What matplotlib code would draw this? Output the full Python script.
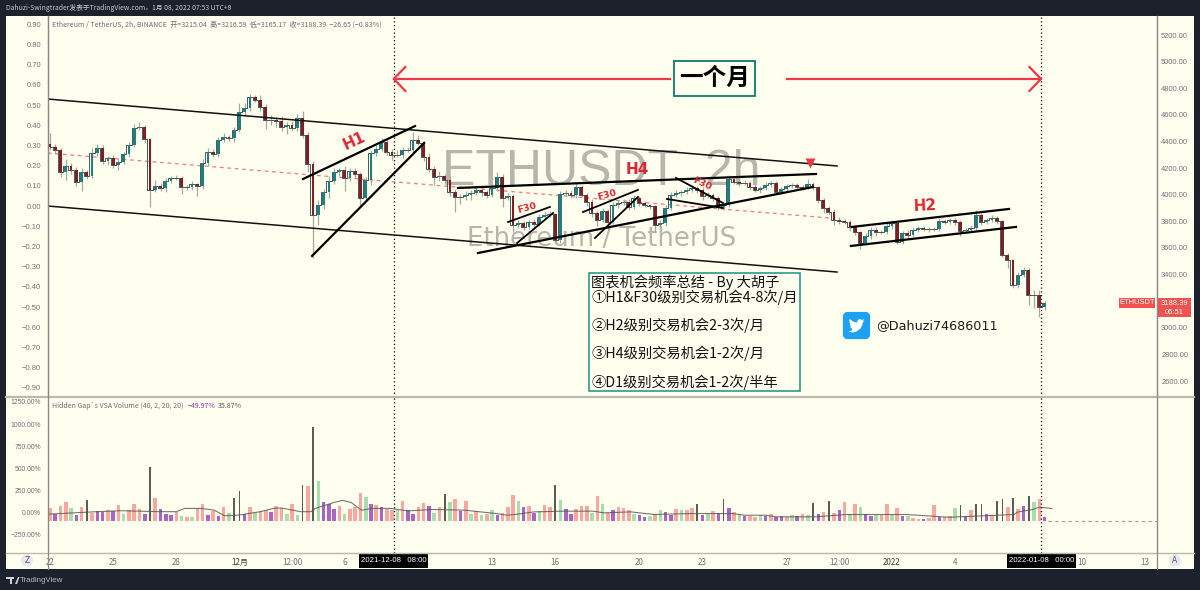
import numpy as np
import matplotlib
matplotlib.use("Agg")
import matplotlib.pyplot as plt
from matplotlib.patches import FancyBboxPatch, Rectangle, Polygon, Circle

# closes of the price, one every 6 hours from 22 Nov 2021
closes = [4358,4336,4171,4216,4186,4096,4171,4141,4314,4351,
          4253,4276,4223,4246,4306,4374,4501,4509,4419,4036,
          4066,4051,4103,4126,4126,4058,4058,4081,4066,4238,
          4321,4306,4411,4434,4426,4486,4621,4652,4734,4712,
          4659,4561,4561,4554,4509,4524,4501,4576,4449,4231,
          3848,3923,4021,4103,4171,4186,4126,4178,4156,3975,
          4111,4314,4344,4396,4321,4299,4299,4336,4336,4411,
          4389,4283,4193,4133,4141,4111,4021,3983,3983,3998,
          4013,4036,4021,3998,4051,4133,3975,3990,3773,3788,
          3758,3795,3780,3833,3848,3855,3660,4006,4013,3998,
          4058,3998,3945,3863,3810,3878,3795,3923,3938,3945,
          3908,3975,3938,3923,3915,3773,3788,3900,3998,4013,
          4021,4036,4051,4036,3990,3998,3975,3908,3923,4118,
          4096,4088,4088,4058,4036,4051,4073,4088,4021,4043,
          4066,4073,4058,4051,4081,4058,3960,3900,3870,3810,
          3803,3795,3758,3720,3637,3690,3735,3720,3720,3765,
          3788,3645,3713,3698,3735,3750,3743,3743,3743,3803,
          3795,3810,3795,3728,3735,3750,3848,3795,3810,3825,
          3803,3547,3510,3322,3397,3434,3247,3247,3157,3188]
wick_up = [85,20,15,50,20,20,30,15,40,30,
           20,15,20,25,15,25,30,40,15,10,
           45,20,25,15,20,15,15,20,10,30,
           30,20,20,30,15,25,65,40,20,15,
           35,25,40,20,40,20,30,30,55,25,
           20,40,20,35,30,15,30,25,20,15,
           25,25,30,30,25,20,40,20,25,60,
           40,15,30,20,40,15,30,25,20,30,
           20,25,20,15,25,40,25,20,15,25,
           15,15,20,25,20,20,10,25,25,20,
           30,15,15,25,15,20,15,20,20,25,
           20,20,15,15,10,10,25,20,20,25,
           15,20,20,15,20,25,15,15,10,30,
           25,15,20,15,20,15,20,15,15,15,
           15,15,15,15,35,15,10,15,15,20,
           20,15,15,15,10,25,20,25,15,25,
           20,15,15,20,20,15,15,15,15,25,
           15,15,15,15,15,20,35,15,15,20,
           15,10,15,10,25,20,15,40,40,15]
wick_dn = [20,30,40,60,30,30,70,20,15,20,
           25,30,20,35,15,20,15,15,30,128,
           15,25,30,15,15,50,20,20,75,20,
           25,20,25,15,20,30,15,30,20,15,
           30,65,40,45,30,50,20,25,20,60,
           323,75,30,45,20,30,100,25,30,60,
           25,35,20,15,25,35,15,20,15,20,
           15,30,25,60,30,30,30,115,50,20,
           35,15,30,20,15,25,65,15,50,25,
           20,15,40,15,15,15,15,20,15,25,
           20,15,30,30,45,15,60,15,20,15,
           25,15,20,15,25,55,15,20,15,15,
           20,15,15,20,30,15,20,25,25,15,
           15,25,15,20,15,25,15,15,15,15,
           20,15,15,15,10,20,20,40,25,40,
           20,15,30,25,45,15,25,30,15,15,
           25,15,15,25,15,15,15,20,15,15,
           15,15,20,40,15,15,15,20,15,15,
           25,15,60,25,25,15,75,95,75,20]

# volume panel, percent, same 6h slots
vol_pct = [45,-20,70,115,50,-30,60,140,-10,20,
           10,30,15,80,-20,30,90,40,-20,510,
           160,40,-15,-25,10,-40,-50,-55,50,90,
           -30,20,-40,60,-10,160,240,-20,60,-10,
           20,30,10,70,50,-20,100,-30,310,300,
           970,360,120,90,40,70,-20,40,60,220,
           170,90,80,60,40,30,30,127,30,-20,
           60,108,70,-10,60,203,120,146,20,127,
           -20,20,-30,-20,30,-30,-10,60,195,127,
           60,70,-10,20,80,60,310,140,40,-20,
           40,70,70,-10,184,90,-10,30,63,50,
           30,-20,-30,-50,-40,-20,30,10,-30,44,
           30,25,45,93,-30,-20,20,-10,150,50,
           10,-20,-40,-40,-50,-30,-40,-20,-50,-40,
           -50,-30,-40,-20,-30,110,-20,10,130,-10,
           30,120,-20,100,60,-20,-40,-30,-30,90,
           -30,55,-40,-40,-60,-70,-70,-60,80,-50,
           -50,-40,50,80,-40,30,95,100,-20,-30,
           130,146,60,165,40,70,184,120,154,-50]
vol_kind = ("pvppgvpkpv" "vpvpgpppvk" "pvvvpgpgpp" "vpvpgkkvpg" "ppvppgpgkp"
            "kgvvvpgppp" "gvpvppgpvv" "ppvgpkgpvp" "gpgpgvpppg" "vpvgppkgvv"
            "pppgpgpvpp" "pgvvgpgvvp" "gppkvgpvkv" "pgvppgvpvv" "pgvpgkvpkp"
            "vpgpgvvgpp" "gpvgppvppv" "ppgkvpkkvp" "kkpkpvkgpv")
vol_colors = {"p": "#f9a8a0", "g": "#a9dcae", "v": "#a765c4", "k": "#5c5c54"}
vol_widths = {"p": 0.17, "g": 0.17, "v": 0.17, "k": 0.08}

# moving average line of the volume
ma_days = [-0.1,2.2,3.4,5.2,6.0,6.4,7.2,7.8,8.3,9.0,9.5,10.0,10.6,11.0,11.9,12.4,12.6,13.5,13.9,14.3,14.8,15.3,16.2,
           17.0,18.2,19.7,21.2,21.7,22.2,23.0,24.4,25.8,26.3,27.6,28.7,30.4,32.4,33.0,34.0,34.5,36.4,
           37.8,40.7,42.7,45.8,46.0,46.7,47.0,47.6]
ma_pct = [-20,8,19,8,8,45,45,25,-38,-30,-10,8,45,50,8,8,45,113,136,113,25,45,45,
          17,33,25,-13,-32,-20,6,14,14,-5,6,-24,-13,-13,-32,-32,-50,-50,
          -24,-24,-55,-24,6,33,59,44]

# right and left scales
price_ticks = [5200,5000,4800,4600,4400,4200,4000,3800,3600,3400,3000,2800,2600]
pct_ticks = [0.9,0.8,0.7,0.6,0.5,0.4,0.3,0.2,0.1,0.0,-0.1,-0.2,-0.3,-0.4,-0.5,-0.6,-0.7,-0.8,-0.9]
vol_ticks = [1250,1000,750,500,250,0,-250]
date_days = [0,3,6,9,11.5,14,21,24,28,31,35,37.5,40,43,49,52]
date_labels = ["22","25","28","12月","12:00","6","13","16","20","23","27","12:00","2022","4","10","13"]

# drawn lines as (day, price) pairs
channel_lines = [[(-0.1,4719),(37.39,4216)], [(-0.1,3915),(37.39,3419)]]
mid_line = [(-0.1,4313),(37.05,3825)]
thick_lines = [[(12.02,4118),(17.34,4516)], [(12.45,3540),(17.77,4389)],
               [(19.38,4051),(36.39,4156)], [(20.33,3562),(36.25,4058)],
               [(38.10,3758),(45.56,3893)], [(38.05,3615),(45.89,3758)]]
thin_lines = [[(21.76,3795),(23.75,3908)], [(22.19,3637),(23.90,3863)],
              [(25.32,3870),(27.93,4036)], [(25.89,3675),(27.93,3983)],
              [(29.74,4126),(31.97,3938)], [(29.31,3968),(31.97,3900)]]
marker_days = [16.33, 47.08]
span_price = 4870
box_days = [29.45, 35.0]   # gap in the arrow around the label

W, H = 1200, 590
BG = "#fffff0"
DARK = "#1d212c"
GRID = "#b9b9b0"
TICK = "#6f7276"
CJK = ["Noto Sans CJK SC", "DejaVu Sans"]
TICKFONT = "Liberation Sans"

def box(x0, y0, x1, y1):
    return [x0/W, 1-y1/H, (x1-x0)/W, (y1-y0)/H]

fig = plt.figure(figsize=(12, 5.9), dpi=100, facecolor=DARK)

# panel background
back = fig.add_axes([0, 0, 1, 1], zorder=0)
back.set_xlim(0, W)
back.set_ylim(H, 0)
back.axis("off")
back.add_patch(Rectangle((6, 16), 1188, 553, fc=BG, ec="none"))

days = np.arange(len(closes)) * 0.25
closes = np.array(closes, dtype=float)
opens = np.r_[closes[0] + 20, closes[:-1]]
highs = np.maximum(opens, closes) + np.array(wick_up)
lows = np.minimum(opens, closes) - np.array(wick_dn)

ax = fig.add_axes(box(48, 16, 1157, 397), zorder=2, facecolor="none")
ax.set_xlim(-0.095, 52.59)
ax.set_ylim(2480, 5343)

# left percent scale, same panel
ax_pct = ax.twinx()
ax_pct.set_ylim(-0.9455, 0.9406)
ax_pct.yaxis.tick_left()
ax_pct.set_yticks(pct_ticks)
ax_pct.set_yticklabels([f"{t:.2f}".replace("-", "−") for t in pct_ticks], fontsize=5.5, color=TICK, family=TICKFONT)
ax_pct.tick_params(axis="y", length=0, pad=5)
ax_pct.set_xticks([])
for s in ax_pct.spines.values():
    s.set_visible(False)

# watermark
back.text(601, 172, "ETHUSDT  2h", fontsize=36, color="#b6b6aa", ha="center", va="center", family="Liberation Sans")
back.text(602, 239, "Ethereum / TetherUS", fontsize=18.7, color="#b6b6aa", ha="center", va="center", family="DejaVu Sans")

up = closes >= opens
ax.vlines(days, lows, highs, color="#a8a89e", lw=0.9, zorder=2)
ax.step(days, closes, where="mid", color="#46595a", lw=0.7, zorder=2.5)
ax.bar(days[up], (closes-opens)[up], bottom=opens[up], width=0.13, color="#1f7f80", zorder=3)
ax.bar(days[~up], (closes-opens)[~up], bottom=opens[~up], width=0.13, color="#7d2026", zorder=3)

for line in channel_lines:
    ax.plot(*zip(*line), color="#111111", lw=1.1, zorder=4)
ax.plot(*zip(*mid_line), color="#ee7b78", lw=0.9, ls=(0, (3, 3)), zorder=1)
for line in thick_lines:
    ax.plot(*zip(*line), color="#000000", lw=1.6, zorder=4)
for line in thin_lines:
    ax.plot(*zip(*line), color="#000000", lw=1.3, zorder=4)
for d in marker_days:
    ax.axvline(d, color="#000000", lw=0.9, ls=(0, (1, 2)), zorder=4)

# one month arrows
ax.plot([marker_days[0], box_days[0]], [span_price, span_price], color="#f23645", lw=1.6, zorder=4)
ax.plot([box_days[1], marker_days[1]], [span_price, span_price], color="#f23645", lw=1.6, zorder=4)
ax.plot([marker_days[0]+0.55, marker_days[0], marker_days[0]+0.55], [span_price+90, span_price, span_price-90],
        color="#f23645", lw=1.6, zorder=4)
ax.plot([marker_days[1]-0.55, marker_days[1], marker_days[1]-0.55], [span_price+90, span_price, span_price-90],
        color="#f23645", lw=1.6, zorder=4)
ax.plot([36.1], [4240], marker="v", ms=7.5, color="#f23645", mec="none", zorder=5)

ax.yaxis.tick_right()
ax.set_yticks(price_ticks)
ax.set_yticklabels([f"{p:.2f}" for p in price_ticks], fontsize=5.4, color=TICK, family=TICKFONT)
ax.tick_params(axis="y", length=0, pad=3)
ax.set_xticks([])
for name in ["top", "bottom"]:
    ax.spines[name].set_visible(False)
ax.spines["left"].set_color("#888888")
ax.spines["right"].set_color("#888888")
ax.spines["left"].set_linewidth(0.9)
ax.spines["right"].set_linewidth(0.9)

# volume panel
ax_vol = fig.add_axes(box(48, 398, 1157, 552.5), zorder=2, facecolor="none")
ax_vol.set_xlim(-0.095, 52.59)
ax_vol.set_ylim(-454, 1295)
vol_pct = np.array(vol_pct, dtype=float)
ax_vol.bar(days, vol_pct + 100, bottom=-100, width=[vol_widths[k] for k in vol_kind],
           color=[vol_colors[k] for k in vol_kind], zorder=2)
ax_vol.plot(ma_days, ma_pct, color="#55554f", lw=0.8, alpha=0.8, zorder=3)
ax_vol.plot([47.4, 52.59], [-100, -100], color="#9a9a98", lw=0.8, ls=(0, (3, 3)), zorder=1)
for d in marker_days:
    ax_vol.axvline(d, color="#000000", lw=0.9, ls=(0, (1, 2)), zorder=4)
ax_vol.set_yticks(vol_ticks)
ax_vol.set_yticklabels([f"{t:.2f}%".replace("-", "−") for t in vol_ticks], fontsize=4.9, color=TICK, family=TICKFONT)
ax_vol.yaxis.tick_left()
ax_vol.tick_params(axis="y", length=0, pad=5)
ax_vol.set_xticks(date_days)
ax_vol.set_xticklabels(date_labels, fontsize=5.8, color=TICK, family=CJK)
ax_vol.tick_params(axis="x", length=0, pad=4)
for label in ax_vol.get_xticklabels():
    if label.get_text() in ("12月", "2022"):
        label.set_color("#3c3c3c")
ax_vol.spines["top"].set_visible(False)
ax_vol.spines["bottom"].set_color(GRID)
ax_vol.spines["left"].set_color("#888888")
ax_vol.spines["right"].set_color("#888888")

# overlay for labels and boxes, in pixels
top = fig.add_axes([0, 0, 1, 1], zorder=5, facecolor="none")
top.set_xlim(0, W)
top.set_ylim(H, 0)
top.axis("off")

top.plot([6, 1194], [397, 397], color=GRID, lw=1.6)
top.plot([6, 1194], [552.5, 552.5], color=GRID, lw=1.0)
top.plot([48, 48], [16, 569], color="#888888", lw=0.9)
top.plot([1157, 1157], [16, 569], color="#888888", lw=0.9)

top.text(6, 8.5, "Dahuzi-Swingtrader发表于TradingView.com，1月 08, 2022 07:53 UTC+8", fontsize=4.9, color="#c8cbd2",
         family=CJK, va="center")
top.text(52, 24.5, "Ethereum / TetherUS, 2h, BINANCE  开=3215.04  高=3216.59  低=3165.17  收=3188.39  −26.65 (−0.83%)",
         fontsize=5.1, color="#6a6d75", family=CJK, va="center")
top.text(52, 406, "Hidden Gap`s VSA Volume (40, 2, 20, 20)", fontsize=5.05, color="#6a6d75", family=CJK, va="center")
top.text(188, 406, "−49.97%", fontsize=5.05, color="#9c27b0", family=CJK, va="center")
top.text(218, 406, "35.87%", fontsize=5.05, color="#55554f", family=CJK, va="center")

# drawn labels
for txt, x, y, rot, size in [("H1", 354, 141, 25, 11), ("H4", 637, 169, 0, 11), ("H2", 925, 206, 3, 11),
                             ("F30", 527, 208, 15, 6.8), ("F30", 607, 195, 15, 6.8), ("F30", 702, 184, -25, 6.8)]:
    top.text(x, y, txt, fontsize=size, color="#dc2733", fontweight="bold", rotation=rot, ha="center", va="center",
             family="DejaVu Sans")

# month box
top.add_patch(Rectangle((673.5, 60.5), 81.5, 35.5, fc=BG, ec="#0f7a6c", lw=1.3))
top.text(714.5, 78, "一个月", fontsize=17, fontweight="bold", color="#000000", family=CJK, ha="center", va="center")

# summary box
top.add_patch(Rectangle((588.5, 272.5), 211.5, 118.5, fc=BG, ec="#1f8f80", lw=1.1))
for txt, y in [("图表机会频率总结 - By 大胡子", 282.5), ("①H1&F30级别交易机会4-8次/月", 297),
               ("②H2级别交易机会2-3次/月", 325), ("③H4级别交易机会1-2次/月", 353.5), ("④D1级别交易机会1-2次/半年", 382)]:
    top.text(591, y, txt, fontsize=10.3, color="#111111", family=CJK, va="center")

# twitter
top.add_patch(FancyBboxPatch((845, 314), 23, 23, boxstyle="round,pad=0,rounding_size=2.5", fc="#1da1f2", ec="#1da1f2", lw=3))
bird = [(-8,6),(-4,7),(0,6),(4,3),(6,-1),(6.3,-3),(8,-5),(6.2,-4.5),(7.6,-6.5),(5.6,-5.6),(3.6,-6.4),(1.2,-5.6),(0.6,-3),
        (-3,-3.8),(-7,-6.5),(-7.2,-3.6),(-6,-1.4),(-7,-1.8),(-5.5,1.2),(-6.8,1.3),(-4.2,3.4),(-4.6,4.8)]
top.add_patch(Polygon([(856.5+a, 325.5+b) for a, b in bird], fc="white", ec="none"))
top.text(876, 326, "@Dahuzi74686011", fontsize=9.2, color="#1a1a1a", family="DejaVu Sans", va="center")

# price tags
top.add_patch(Rectangle((1119, 298), 36, 10, fc="#f0534f", ec="none"))
top.text(1137, 303, "ETHUSDT", fontsize=5.4, color="white", family=TICKFONT, ha="center", va="center")
top.add_patch(Rectangle((1157, 298), 34, 19, fc="#f0534f", ec="none"))
top.text(1174, 303.5, "3188.39", fontsize=5.5, color="white", family=TICKFONT, ha="center", va="center")
top.text(1174, 312, "06:51", fontsize=5.5, color="white", family=TICKFONT, ha="center", va="center")

# cursor dates
for x0, x1, txt in [(359, 428, "2021-12-08   08:00"), (1007, 1076, "2022-01-08   00:00")]:
    top.add_patch(Rectangle((x0, 553), x1-x0, 15, fc="#000000", ec="none"))
    top.text((x0+x1)/2, 560.5, txt, fontsize=5.6, color="white", family=TICKFONT, ha="center", va="center")

for x, s in [(27, "Z"), (1175, "A")]:
    top.add_patch(Circle((x, 560.5), 6, fc="#e6e8ee", ec="none"))
    top.text(x, 560.5, s, fontsize=5.5, color="#555555", ha="center", va="center")

# footer
logo = [(6,577),(14,577),(14,579),(12,579),(12,584),(9.5,584),(9.5,579),(6,579)]
top.add_patch(Polygon(logo, fc="#d0d3da", ec="none"))
top.add_patch(Polygon([(15,584),(18,577),(19.5,577),(17,584)], fc="#d0d3da", ec="none"))
top.text(20, 580.5, "TradingView", fontsize=5.7, color="#b7bac2", family="Liberation Sans", va="center")

fig.savefig("out.png", dpi=100, facecolor=DARK)
